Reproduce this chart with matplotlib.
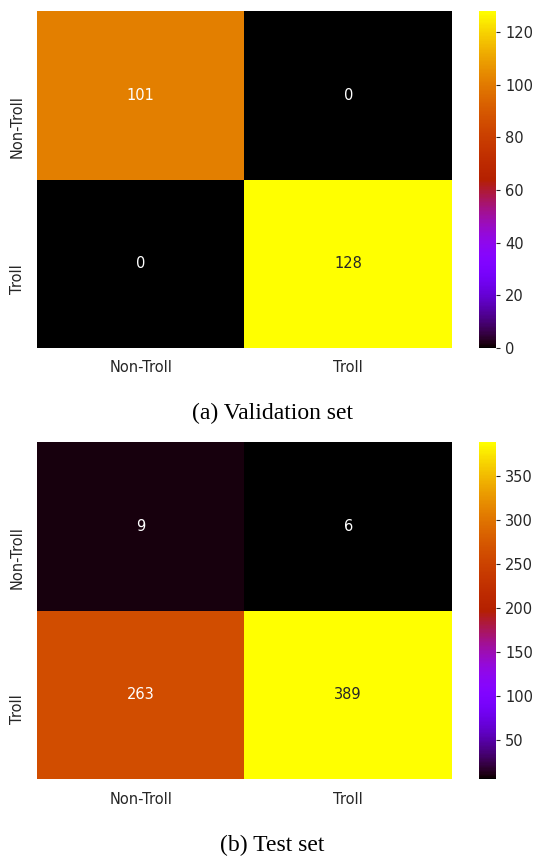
import numpy as np
import matplotlib
matplotlib.use("Agg")
import matplotlib.pyplot as plt
import seaborn as sns

labels = ["Non-Troll", "Troll"]
val_cm = [[101, 0], [0, 128]]
test_cm = [[9, 6], [263, 389]]
captions = ["(a) Validation set", "(b) Test set"]

sns.set_theme(style="darkgrid")
plt.rcParams['font.family'] = ['DejaVu Sans']

W, H = 546, 858
fig = plt.figure(figsize=(W / 100, H / 100), dpi=100)

def px_axes(x0, y0, x1, y1):
    return fig.add_axes([x0 / W, 1 - y1 / H, (x1 - x0) / W, (y1 - y0) / H])

layout = [
    dict(ax=(37, 11, 452, 348), cax=(479, 11, 496, 348), cap_y=413),
    dict(ax=(37, 442, 452, 779), cax=(479, 442, 496, 779), cap_y=845),
]

for cm, cap, lay in zip([val_cm, test_cm], captions, layout):
    ax = px_axes(*lay["ax"])
    cax = px_axes(*lay["cax"])
    sns.heatmap(np.array(cm), annot=True, fmt="d", cmap="gnuplot",
                xticklabels=labels, yticklabels=labels, ax=ax, cbar_ax=cax,
                annot_kws={"fontsize": 10.5})
    ax.tick_params(axis="both", labelsize=10.5, colors=".15", length=0)
    ax.tick_params(axis="x", pad=9)
    ax.tick_params(axis="y", pad=14)
    for t in ax.get_yticklabels():
        t.set_rotation(90)
        t.set_rotation_mode("anchor")
        t.set_ha("right")
        t.set_va("center")
    cax.tick_params(labelsize=10.5, colors=".15", length=3, width=0.8)
    fig.text(272 / W, 1 - lay["cap_y"] / H, cap, ha="center", va="center",
             fontsize=17, family="Liberation Serif", color="black")

fig.savefig("out.png", dpi=100)
